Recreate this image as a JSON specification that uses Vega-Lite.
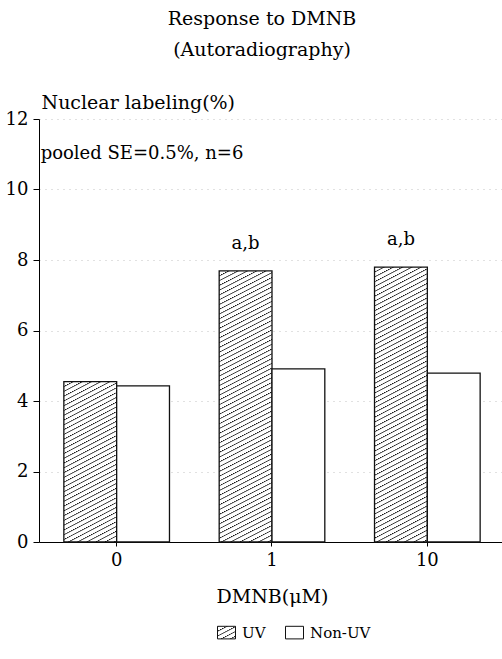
{
"$schema": "https://vega.github.io/schema/vega-lite/v6.json",
"width": 466, "height": 423,
"autosize": "none",
"padding": {"left": 39, "top": 119, "right": 0, "bottom": 117},
"background": "white",
"config": {"view": {"stroke": null}, "font": "DejaVu Serif"},
"params": [{"name": "hatch", "value": {"gradient": "linear", "x1": 0, "y1": 0, "x2": 0.109, "y2": 1.089, "stops": [
{"offset":0,"color":"#111"},{"offset":0.004,"color":"#fff"},{"offset":0.0145,"color":"#fff"},
{"offset":0.016,"color":"#111"},{"offset":0.02,"color":"#fff"},{"offset":0.0305,"color":"#fff"},
{"offset":0.032,"color":"#111"},{"offset":0.036,"color":"#fff"},{"offset":0.0465,"color":"#fff"},
{"offset":0.048,"color":"#111"},{"offset":0.052,"color":"#fff"},{"offset":0.0625,"color":"#fff"},
{"offset":0.064,"color":"#111"},{"offset":0.068,"color":"#fff"},{"offset":0.0785,"color":"#fff"},
{"offset":0.08,"color":"#111"},{"offset":0.084,"color":"#fff"},{"offset":0.0945,"color":"#fff"},
{"offset":0.096,"color":"#111"},{"offset":0.1,"color":"#fff"},{"offset":0.1105,"color":"#fff"},
{"offset":0.112,"color":"#111"},{"offset":0.116,"color":"#fff"},{"offset":0.1265,"color":"#fff"},
{"offset":0.128,"color":"#111"},{"offset":0.132,"color":"#fff"},{"offset":0.1425,"color":"#fff"},
{"offset":0.144,"color":"#111"},{"offset":0.148,"color":"#fff"},{"offset":0.1585,"color":"#fff"},
{"offset":0.16,"color":"#111"},{"offset":0.164,"color":"#fff"},{"offset":0.1745,"color":"#fff"},
{"offset":0.176,"color":"#111"},{"offset":0.18,"color":"#fff"},{"offset":0.1905,"color":"#fff"},
{"offset":0.192,"color":"#111"},{"offset":0.196,"color":"#fff"},{"offset":0.2065,"color":"#fff"},
{"offset":0.208,"color":"#111"},{"offset":0.212,"color":"#fff"},{"offset":0.2225,"color":"#fff"},
{"offset":0.224,"color":"#111"},{"offset":0.228,"color":"#fff"},{"offset":0.2385,"color":"#fff"},
{"offset":0.24,"color":"#111"},{"offset":0.244,"color":"#fff"},{"offset":0.2545,"color":"#fff"},
{"offset":0.256,"color":"#111"},{"offset":0.26,"color":"#fff"},{"offset":0.2705,"color":"#fff"},
{"offset":0.272,"color":"#111"},{"offset":0.276,"color":"#fff"},{"offset":0.2865,"color":"#fff"},
{"offset":0.288,"color":"#111"},{"offset":0.292,"color":"#fff"},{"offset":0.3025,"color":"#fff"},
{"offset":0.304,"color":"#111"},{"offset":0.308,"color":"#fff"},{"offset":0.3185,"color":"#fff"},
{"offset":0.32,"color":"#111"},{"offset":0.324,"color":"#fff"},{"offset":0.3345,"color":"#fff"},
{"offset":0.336,"color":"#111"},{"offset":0.34,"color":"#fff"},{"offset":0.3505,"color":"#fff"},
{"offset":0.352,"color":"#111"},{"offset":0.356,"color":"#fff"},{"offset":0.3665,"color":"#fff"},
{"offset":0.368,"color":"#111"},{"offset":0.372,"color":"#fff"},{"offset":0.3825,"color":"#fff"},
{"offset":0.384,"color":"#111"},{"offset":0.388,"color":"#fff"},{"offset":0.3985,"color":"#fff"},
{"offset":0.4,"color":"#111"},{"offset":0.404,"color":"#fff"},{"offset":0.4145,"color":"#fff"},
{"offset":0.416,"color":"#111"},{"offset":0.42,"color":"#fff"},{"offset":0.4305,"color":"#fff"},
{"offset":0.432,"color":"#111"},{"offset":0.436,"color":"#fff"},{"offset":0.4465,"color":"#fff"},
{"offset":0.448,"color":"#111"},{"offset":0.452,"color":"#fff"},{"offset":0.4625,"color":"#fff"},
{"offset":0.464,"color":"#111"},{"offset":0.468,"color":"#fff"},{"offset":0.4785,"color":"#fff"},
{"offset":0.48,"color":"#111"},{"offset":0.484,"color":"#fff"},{"offset":0.4945,"color":"#fff"},
{"offset":0.496,"color":"#111"},{"offset":0.5,"color":"#fff"},{"offset":0.5105,"color":"#fff"},
{"offset":0.512,"color":"#111"},{"offset":0.516,"color":"#fff"},{"offset":0.5265,"color":"#fff"},
{"offset":0.528,"color":"#111"},{"offset":0.532,"color":"#fff"},{"offset":0.5425,"color":"#fff"},
{"offset":0.544,"color":"#111"},{"offset":0.548,"color":"#fff"},{"offset":0.5585,"color":"#fff"},
{"offset":0.56,"color":"#111"},{"offset":0.564,"color":"#fff"},{"offset":0.5745,"color":"#fff"},
{"offset":0.576,"color":"#111"},{"offset":0.58,"color":"#fff"},{"offset":0.5905,"color":"#fff"},
{"offset":0.592,"color":"#111"},{"offset":0.596,"color":"#fff"},{"offset":0.6065,"color":"#fff"},
{"offset":0.608,"color":"#111"},{"offset":0.612,"color":"#fff"},{"offset":0.6225,"color":"#fff"},
{"offset":0.624,"color":"#111"},{"offset":0.628,"color":"#fff"},{"offset":0.6385,"color":"#fff"},
{"offset":0.64,"color":"#111"},{"offset":0.644,"color":"#fff"},{"offset":0.6545,"color":"#fff"},
{"offset":0.656,"color":"#111"},{"offset":0.66,"color":"#fff"},{"offset":0.6705,"color":"#fff"},
{"offset":0.672,"color":"#111"},{"offset":0.676,"color":"#fff"},{"offset":0.6865,"color":"#fff"},
{"offset":0.688,"color":"#111"},{"offset":0.692,"color":"#fff"},{"offset":0.7025,"color":"#fff"},
{"offset":0.704,"color":"#111"},{"offset":0.708,"color":"#fff"},{"offset":0.7185,"color":"#fff"},
{"offset":0.72,"color":"#111"},{"offset":0.724,"color":"#fff"},{"offset":0.7345,"color":"#fff"},
{"offset":0.736,"color":"#111"},{"offset":0.74,"color":"#fff"},{"offset":0.7505,"color":"#fff"},
{"offset":0.752,"color":"#111"},{"offset":0.756,"color":"#fff"},{"offset":0.7665,"color":"#fff"},
{"offset":0.768,"color":"#111"},{"offset":0.772,"color":"#fff"},{"offset":0.7825,"color":"#fff"},
{"offset":0.784,"color":"#111"},{"offset":0.788,"color":"#fff"},{"offset":0.7985,"color":"#fff"},
{"offset":0.8,"color":"#111"},{"offset":0.804,"color":"#fff"},{"offset":0.8145,"color":"#fff"},
{"offset":0.816,"color":"#111"},{"offset":0.82,"color":"#fff"},{"offset":0.8305,"color":"#fff"},
{"offset":0.832,"color":"#111"},{"offset":0.836,"color":"#fff"},{"offset":0.8465,"color":"#fff"},
{"offset":0.848,"color":"#111"},{"offset":0.852,"color":"#fff"},{"offset":0.8625,"color":"#fff"},
{"offset":0.864,"color":"#111"},{"offset":0.868,"color":"#fff"},{"offset":0.8785,"color":"#fff"},
{"offset":0.88,"color":"#111"},{"offset":0.884,"color":"#fff"},{"offset":0.8945,"color":"#fff"},
{"offset":0.896,"color":"#111"},{"offset":0.9,"color":"#fff"},{"offset":0.9105,"color":"#fff"},
{"offset":0.912,"color":"#111"},{"offset":0.916,"color":"#fff"},{"offset":0.9265,"color":"#fff"},
{"offset":0.928,"color":"#111"},{"offset":0.932,"color":"#fff"},{"offset":0.9425,"color":"#fff"},
{"offset":0.944,"color":"#111"},{"offset":0.948,"color":"#fff"},{"offset":0.9585,"color":"#fff"},
{"offset":0.96,"color":"#111"},{"offset":0.964,"color":"#fff"},{"offset":0.9745,"color":"#fff"},
{"offset":0.976,"color":"#111"},{"offset":0.98,"color":"#fff"},{"offset":0.9905,"color":"#fff"},
{"offset":0.992,"color":"#111"},{"offset":0.996,"color":"#fff"},{"offset":1,"color":"#fff"}
]}}],
"title": {"text": ["Response to DMNB", "(Autoradiography)"], "font": "DejaVu Serif", "fontSize": 19, "fontWeight": "normal", "color": "black", "anchor": "middle", "frame": "group", "dx": -10, "offset": 14, "lineHeight": 31, "baseline": "bottom"},
"data": {"values": [
{"dose": "0", "treatment": "UV", "value": 4.55},
{"dose": "0", "treatment": "Non-UV", "value": 4.43},
{"dose": "1", "treatment": "UV", "value": 7.69, "sig": "a,b"},
{"dose": "1", "treatment": "Non-UV", "value": 4.91},
{"dose": "10", "treatment": "UV", "value": 7.8, "sig": "a,b"},
{"dose": "10", "treatment": "Non-UV", "value": 4.79}
]},
"layer": [
{
"mark": {"type": "bar", "strokeWidth": 1.3, "fill": {"expr": "datum.value === 'UV' ? merge(hatch, {x2: 11.33, y2: 15.25}) : datum.treatment === 'UV' ? merge(hatch, datum.value > 6 ? {x2: 0.109, y2: 1.089} : {x2: 0.311, y2: 1.809}) : '#ffffff'"}},
"encoding": {
"x": {"field": "dose", "type": "nominal", "sort": ["0", "1", "10"], "scale": {"paddingInner": 0.32, "paddingOuter": 0.16},
"axis": {"title": "DMNB(μM)", "labelAngle": 0, "labelFont": "DejaVu Serif", "labelFontSize": 18, "labelColor": "black", "tickSize": 4, "tickColor": "black", "labelPadding": 5, "domainColor": "black", "titleFont": "DejaVu Serif", "titleFontSize": 19, "titleFontWeight": "normal", "titleColor": "black", "titlePadding": 18, "grid": false}},
"xOffset": {"field": "treatment", "type": "nominal", "sort": ["UV", "Non-UV"], "scale": {"paddingInner": 0, "paddingOuter": 0}},
"y": {"field": "value", "type": "quantitative", "scale": {"domain": [0, 12]},
"axis": {"title": "Nuclear labeling(%)", "titleAngle": 0, "titleAlign": "left", "titleBaseline": "alphabetic", "titleX": 2, "titleY": -11, "titleFont": "DejaVu Serif", "titleFontSize": 19, "titleFontWeight": "normal", "titleColor": "black", "values": [0, 2, 4, 6, 8, 10, 12], "labelFont": "DejaVu Serif", "labelFontSize": 18, "labelColor": "black", "tickColor": "black", "tickSize": 6, "labelPadding": 5, "domainColor": "black", "grid": true, "gridColor": "#999", "gridDash": [1, 5], "gridOpacity": 0.6}},
"stroke": {"field": "treatment", "type": "nominal", "scale": {"domain": ["UV", "Non-UV"], "range": ["#111", "#111"]},
"legend": {"title": null, "orient": "none", "legendX": 178, "legendY": 504, "direction": "horizontal", "symbolType": "M-1,-0.7H1V0.7H-1Z", "symbolSize": 324, "symbolStrokeWidth": 1, "labelFont": "DejaVu Serif", "labelFontSize": 15, "labelColor": "black", "labelOffset": 6, "columnPadding": 17,
"encode": {"symbols": {"update": {"fill": {"signal": "datum.value === 'UV' ? merge(hatch, {x2: 11.33, y2: 15.25}) : '#ffffff'"}, "stroke": {"value": "#111"}, "strokeWidth": {"value": 1}}}}}}
}
},
{
"transform": [{"filter": "isValid(datum.sig)"}],
"mark": {"type": "text", "font": "DejaVu Serif", "fontSize": 18, "baseline": "alphabetic", "dy": -22, "color": "black"},
"encoding": {
"x": {"field": "dose", "type": "nominal", "sort": ["0", "1", "10"]},
"xOffset": {"field": "treatment", "type": "nominal", "sort": ["UV", "Non-UV"]},
"y": {"field": "value", "type": "quantitative"},
"text": {"field": "sig"}
}
},
{
"data": {"values": [{"note": "pooled SE=0.5%, n=6"}]},
"mark": {"type": "text", "font": "DejaVu Serif", "fontSize": 18, "align": "left", "baseline": "middle", "dx": -76, "color": "black"},
"encoding": {
"x": {"datum": "0"},
"y": {"datum": 11},
"text": {"field": "note"}
}
}
]
}
